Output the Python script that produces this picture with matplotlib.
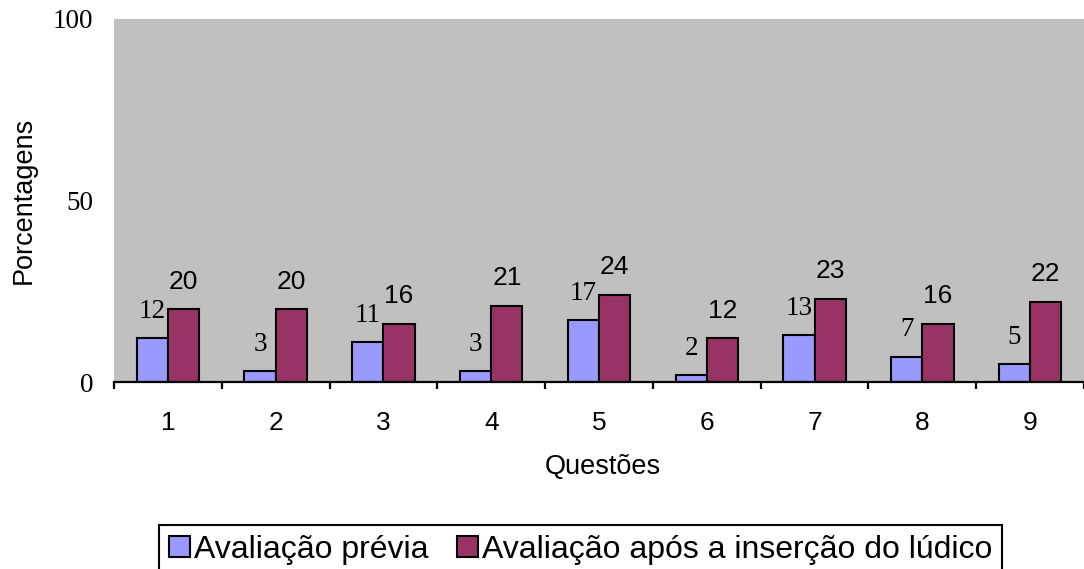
import matplotlib
matplotlib.use("Agg")
import matplotlib.pyplot as plt
from matplotlib.patches import Patch
import numpy as np

questions = ["1", "2", "3", "4", "5", "6", "7", "8", "9"]
previa = [12, 3, 11, 3, 17, 2, 13, 7, 5]
apos = [20, 20, 16, 21, 24, 12, 23, 16, 22]
series_names = ["Avaliação prévia", "Avaliação após a inserção do lúdico"]
yticks = [0, 50, 100]

W, H = 1084, 569
fig = plt.figure(figsize=(W / 100, H / 100), dpi=100)
ax = fig.add_axes([114 / W, 1 - 382 / H, 1 - 114 / W, (382 - 19) / H])
ax.set_facecolor("#c0c0c0")

x = np.arange(len(questions))
bw = 0.29
c1, c2 = "#9999ff", "#993366"
ax.bar(x - bw / 2, previa, bw, color=c1, edgecolor="black", linewidth=1.5)
ax.bar(x + bw / 2, apos, bw, color=c2, edgecolor="black", linewidth=1.5)

for xi, v in zip(x, previa):
    ax.annotate(str(v), (xi - bw / 2, v), xytext=(0, 14.5), textcoords="offset points",
                ha="center", va="baseline", fontsize=19.5, family="Liberation Serif")
for xi, v in zip(x, apos):
    ax.annotate(str(v), (xi + bw / 2, v), xytext=(0, 15), textcoords="offset points",
                ha="center", va="baseline", fontsize=19, family="Liberation Sans")

ax.set_xlim(-0.5, len(questions) - 0.5)
ax.set_ylim(0, 100)
for s in ["top", "right", "left"]:
    ax.spines[s].set_visible(False)
ax.spines["bottom"].set_linewidth(1.6)

ax.set_xticks(np.arange(len(questions) + 1) - 0.5)
ax.set_xticklabels([])
ax.tick_params(axis="x", which="major", length=5, width=1.6, direction="out")
ax.set_xticks(x, minor=True)
ax.set_xticklabels(questions, minor=True, fontsize=19, family="Liberation Sans")
ax.tick_params(axis="x", which="minor", length=0, pad=21)

ax.set_yticks(yticks)
ax.set_yticklabels([str(t) for t in yticks], fontsize=19.5, family="Liberation Serif")
ax.tick_params(axis="y", length=0, pad=15)

fig.text(24 / W, 1 - 200 / H, "Porcentagens", rotation=90, ha="center", va="center",
         fontsize=19.5, family="Liberation Sans")
fig.text(603 / W, 1 - 467 / H, "Questões", ha="center", va="center",
         fontsize=19.5, family="Liberation Sans")

handles = [Patch(facecolor=c1, edgecolor="black", linewidth=1.5),
           Patch(facecolor=c2, edgecolor="black", linewidth=1.5)]
leg = fig.legend(handles, series_names, loc="upper left", bbox_to_anchor=(159 / W, 1 - 525 / H),
                 ncol=2, frameon=True, fancybox=False, shadow=False,
                 prop={"family": "Liberation Sans", "size": 23},
                 handlelength=0.66, handleheight=0.66, handletextpad=0.12,
                 columnspacing=0.9, borderpad=0.3, borderaxespad=0)
leg.get_frame().set_edgecolor("black")
leg.get_frame().set_linewidth(1.5)
leg.get_frame().set_alpha(1)

fig.savefig("out.png", dpi=100)
